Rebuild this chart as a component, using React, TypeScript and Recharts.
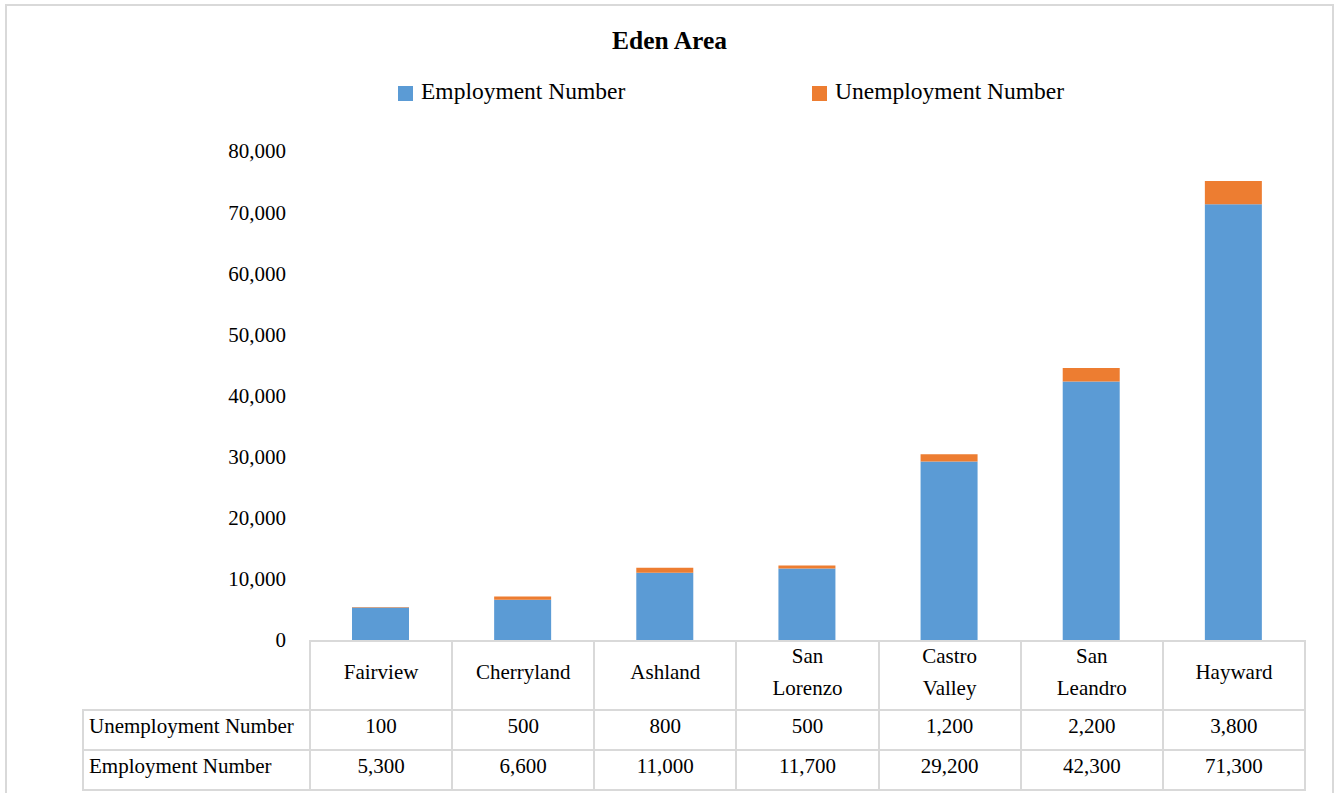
import { BarChart, Bar, XAxis, YAxis } from 'recharts';

const categories = ['Fairview', 'Cherryland', 'Ashland', 'San Lorenzo', 'Castro Valley', 'San Leandro', 'Hayward'];
const employment = [5300, 6600, 11000, 11700, 29200, 42300, 71300];
const unemployment = [100, 500, 800, 500, 1200, 2200, 3800];
const yTicks = [0, 10000, 20000, 30000, 40000, 50000, 60000, 70000, 80000];

const series = [
    { key: 'employment', name: 'Employment Number', color: '#5B9BD5', values: employment },
    { key: 'unemployment', name: 'Unemployment Number', color: '#ED7D31', values: unemployment },
];

const data = categories.map((name, i) => ({
    name,
    employment: employment[i],
    unemployment: unemployment[i],
}));

const W = 1336;
const H = 793;
const PLOT_LEFT = 309;
const PLOT_RIGHT = 1304;
const PLOT_TOP = 151;
const PLOT_BOTTOM = 640;
const LABEL_COL = 227;
const FONT = '"Liberation Serif", "Times New Roman", serif';
const LINE = '2px solid #d9d9d9';

const fmt = (v: number) => v.toLocaleString('en-US');

const cell = {
    border: LINE,
    padding: 0,
    textAlign: 'center' as const,
    fontSize: 21,
    color: '#000',
};

// nudges cell text up a little, like the original
const Up = ({ children }: { children: React.ReactNode }) => (
    <div style={{ transform: 'translateY(-4px)' }}>{children}</div>
);

// the table under the plot, one column per category
const DataTable = () => {
    const colW = (PLOT_RIGHT - PLOT_LEFT) / categories.length;
    const rows = [series[1], series[0]];
    return (
        <table
            style={{
                position: 'absolute',
                left: PLOT_LEFT - LABEL_COL,
                top: PLOT_BOTTOM,
                width: PLOT_RIGHT - PLOT_LEFT + LABEL_COL,
                borderCollapse: 'collapse',
                tableLayout: 'fixed',
                fontFamily: FONT,
            }}
        >
            <colgroup>
                <col style={{ width: LABEL_COL }} />
                {categories.map((c) => (
                    <col key={c} style={{ width: colW }} />
                ))}
            </colgroup>
            <tbody>
                <tr style={{ height: 69 }}>
                    <td style={{ ...cell, border: 'none' }} />
                    {categories.map((c) => (
                        <td key={c} style={{ ...cell, lineHeight: '32px' }}>
                            <Up>
                                {c.split(' ').map((w, i) => (
                                    <div key={i}>{w}</div>
                                ))}
                            </Up>
                        </td>
                    ))}
                </tr>
                {rows.map((s) => (
                    <tr key={s.key} style={{ height: 40 }}>
                        <td style={{ ...cell, textAlign: 'left', paddingLeft: 5 }}>
                            <Up>{s.name}</Up>
                        </td>
                        {s.values.map((v, i) => (
                            <td key={i} style={cell}>
                                <Up>{fmt(v)}</Up>
                            </td>
                        ))}
                    </tr>
                ))}
            </tbody>
        </table>
    );
};

const legendPos = [398, 812];

export default function App() {
    return (
        <div style={{ position: 'absolute', left: 0, top: 0, width: W, height: H, overflow: 'hidden', background: '#fff', fontFamily: FONT }}>
            <div style={{ position: 'absolute', left: 5, top: 4, width: 1325, height: 820, border: LINE }} />
            <div style={{ position: 'absolute', left: 0, width: 1339, top: 26, textAlign: 'center', fontSize: 25.5, fontWeight: 'bold', lineHeight: '30px' }}>
                Eden Area
            </div>
            {series.map((s, i) => (
                <div key={s.key} style={{ position: 'absolute', left: legendPos[i], top: 77, display: 'flex', alignItems: 'center', fontSize: 23.5, lineHeight: '28px' }}>
                    <span style={{ width: 15, height: 15, background: s.color, marginRight: 8, marginTop: 4 }} />
                    <span>{s.name}</span>
                </div>
            ))}
            <div style={{ position: 'absolute', left: 0, top: 0 }}>
                <BarChart
                    width={W}
                    height={H}
                    data={data}
                    margin={{ top: PLOT_TOP, right: W - PLOT_RIGHT, bottom: H - PLOT_BOTTOM, left: 0 }}
                    barCategoryGap="30%"
                >
                    <XAxis dataKey="name" hide />
                    <YAxis
                        width={PLOT_LEFT}
                        domain={[0, 80000]}
                        ticks={yTicks}
                        tickFormatter={fmt}
                        axisLine={false}
                        tickLine={false}
                        tickSize={0}
                        tickMargin={23}
                        tick={{ fontSize: 21, fill: '#000', fontFamily: FONT }}
                    />
                    {series.map((s) => (
                        <Bar key={s.key} dataKey={s.key} name={s.name} stackId="a" fill={s.color} barSize={57} isAnimationActive={false} />
                    ))}
                </BarChart>
            </div>
            <DataTable />
        </div>
    );
}
